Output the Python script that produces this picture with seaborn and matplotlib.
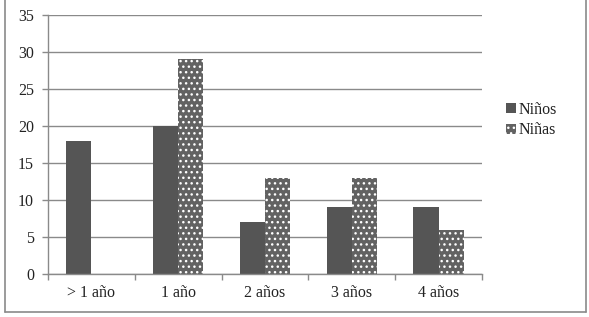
import pandas as pd
import matplotlib.pyplot as plt
import seaborn as sns
from matplotlib.patches import Patch
from matplotlib.lines import Line2D

# data
categories = ["> 1 año", "1 año", "2 años", "3 años", "4 años"]
ninos = [18, 20, 7, 9, 9]
ninas = [0, 29, 13, 13, 6]
series = ["Niños", "Niñas"]
y_ticks = [0, 5, 10, 15, 20, 25, 30, 35]


def main():
    sns.set_style("white")
    plt.rcParams['font.family'] = ['Liberation Serif', 'DejaVu Serif']
    plt.rcParams['hatch.color'] = 'white'
    plt.rcParams['hatch.linewidth'] = 1.0

    df = pd.DataFrame({
        "Edad": categories * 2,
        "Sexo": [series[0]] * len(categories) + [series[1]] * len(categories),
        "Valor": ninos + ninas,
    })

    fig = plt.figure(figsize=(5.89, 3.17), dpi=100)
    ax = fig.add_axes([48 / 589, 1 - 274 / 317, 434 / 589, 259 / 317])

    sns.barplot(data=df, x="Edad", y="Valor", hue="Sexo", order=categories,
                hue_order=series, palette=["#555555", "#555555"],
                width=0.58, ax=ax, legend=False, saturation=1)

    # Niñas bars get a dotted texture
    n = len(categories)
    for i, bar in enumerate(ax.patches):
        bar.set_linewidth(0)
        if i >= n:
            bar.set_facecolor("#626262")
            bar.set_hatch("...")

    ax.set_ylim(0, 35)
    ax.set_xlim(-0.5, n - 0.5)
    ax.set_yticks(y_ticks)
    ax.set_xlabel("")
    ax.set_ylabel("")

    ax.set_axisbelow(True)
    ax.yaxis.grid(True, color="#8a8a8a", linewidth=1.0)
    ax.xaxis.grid(False)

    for side in ["top", "right"]:
        ax.spines[side].set_visible(False)
    for side in ["left", "bottom"]:
        ax.spines[side].set_color("#8a8a8a")
        ax.spines[side].set_linewidth(1.0)

    ax.tick_params(axis="y", left=True, length=4, width=1, color="#8a8a8a",
                   labelsize=11.5, pad=6, labelcolor="#222222")
    ax.tick_params(axis="x", which="major", length=0, labelsize=11.5, pad=8,
                   labelcolor="#222222")
    ax.set_xticks([i + 0.5 for i in range(-1, n)], minor=True)
    ax.tick_params(axis="x", which="minor", bottom=True, length=4, width=1,
                   color="#8a8a8a")

    handles = [
        Patch(facecolor="#555555", linewidth=0, label=series[0]),
        Patch(facecolor="#626262", hatch="...", linewidth=0, label=series[1]),
    ]
    fig.legend(handles=handles, loc="center left",
               bbox_to_anchor=(500 / 589, 1 - 120 / 317), frameon=False,
               fontsize=11.5, handlelength=0.6, handleheight=0.6,
               handletextpad=0.15, labelspacing=0.3, borderaxespad=0,
               labelcolor="#222222")

    # outer frame of the chart
    frame_col = "#8a8a8a"
    x0, x1 = 5 / 589, 586 / 589
    yb = 1 - 312 / 317
    fig.add_artist(Line2D([x0, x0], [yb, 1], color=frame_col, lw=1.2))
    fig.add_artist(Line2D([x1, x1], [yb, 1], color=frame_col, lw=1.2))
    fig.add_artist(Line2D([x0, x1], [yb, yb], color=frame_col, lw=1.2))

    fig.savefig("out.png", dpi=100)
    plt.close(fig)


if __name__ == "__main__":
    main()
